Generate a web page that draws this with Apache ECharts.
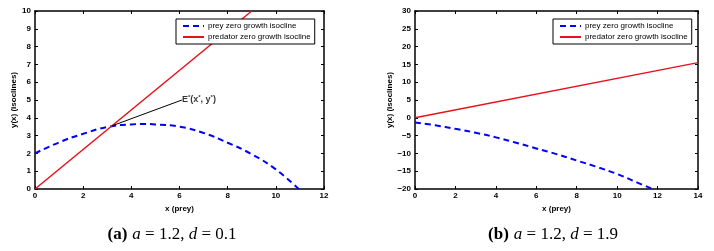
<!DOCTYPE html>
<html><head><meta charset="utf-8">
<script src="https://cdn.jsdelivr.net/npm/echarts@6/dist/echarts.min.js"></script>
<style>html,body{margin:0;padding:0;background:#fff}#c{width:714px;height:251px}</style>
</head><body><div id="c"></div>
<script>
// Panel (a): a = 1.2, d = 0.1
const preyA_x = [0, 1, 2, 3, 4, 4.5, 5, 6, 7, 8, 9, 10, 10.95];
const preyA_y = [2.0, 2.62, 3.1, 3.48, 3.63, 3.65, 3.63, 3.5, 3.15, 2.6, 1.95, 1.1, 0.0];
const predA_x = [0, 9.0];
const predA_y = [0, 10];
const eqA = [3.2, 3.55];        // equilibrium point E*
const eqLabelA = [6.1, 5.0];    // label anchor
// Panel (b): a = 1.2, d = 1.9
const preyB_x = [0, 1, 2, 3, 4, 5, 6, 7, 8, 9, 10, 11, 11.75];
const preyB_y = [-1.3, -2.1, -3.1, -4.2, -5.5, -7.0, -8.6, -10.2, -12.0, -13.8, -15.8, -18.2, -20];
const predB_x = [0, 14];
const predB_y = [0, 15.5];
const xTicksA = [0, 12, 2];
const yTicksA = [0, 10, 1];
const xTicksB = [0, 14, 2];
const yTicksB = [-20, 30, 5];
const names = ['prey zero growth isocline', 'predator zero growth isocline'];
const captions = [['(a)', 'a', '1.2', 'd', '0.1'], ['(b)', 'a', '1.2', 'd', '1.9']];

const zip = (xs, ys) => xs.map((x, i) => [x, ys[i]]);
const FONT = 'Liberation Sans';
const tickFont = {fontFamily: FONT, fontSize: 8, color: '#000', fontWeight: 'bold'};

function axesFor(gi, xt, yt) {
  const base = {
    gridIndex: gi, type: 'value', splitLine: {show: false},
    axisLine: {show: true, onZero: false, lineStyle: {color: '#000', width: 1.5}},
    axisTick: {show: true, inside: true, length: 3, lineStyle: {color: '#000'}}
  };
  const xs = [
    Object.assign({}, base, {min: xt[0], max: xt[1], interval: xt[2], position: 'bottom',
      name: 'x (prey)', nameLocation: 'middle', nameGap: 14,
      nameTextStyle: {fontFamily: FONT, fontSize: 8, fontWeight: 'bold', color: '#000'},
      axisLabel: Object.assign({margin: 3}, tickFont)}),
    Object.assign({}, base, {min: xt[0], max: xt[1], interval: xt[2], position: 'top',
      axisLabel: {show: false}})
  ];
  const ys = [
    Object.assign({}, base, {min: yt[0], max: yt[1], interval: yt[2], position: 'left',
      name: 'y(x) (isoclines)', nameLocation: 'middle', nameGap: gi === 0 ? 15 : 19, nameRotate: 90,
      nameTextStyle: {fontFamily: FONT, fontSize: 8, fontWeight: 'bold', color: '#000'},
      axisLabel: Object.assign({margin: 4, formatter: v => String(v).replace('-', '\u2212')}, tickFont)}),
    Object.assign({}, base, {min: yt[0], max: yt[1], interval: yt[2], position: 'right',
      axisLabel: {show: false}})
  ];
  return {xs, ys};
}
const aA = axesFor(0, xTicksA, yTicksA);
const aB = axesFor(1, xTicksB, yTicksB);

const legendBase = {
  orient: 'vertical', data: names, backgroundColor: '#fff',
  borderColor: '#000', borderWidth: 1, padding: [3, 4, 3, 6],
  itemWidth: 21, itemHeight: 8, itemGap: 3, borderRadius: 0,
  itemStyle: {opacity: 0},
  textStyle: {fontFamily: FONT, fontSize: 8, color: '#000', padding: [0, 0, 0, -1]},
  selectedMode: false
};

function capRich(c) {
  return '{b|' + c[0] + '} {i|' + c[1] + '}{r| = ' + c[2] + ', }{i|' + c[3] + '}{r| = ' + c[4] + '}';
}
const rich = {
  b: {fontFamily: 'Liberation Serif', fontSize: 17, fontWeight: 'bold', color: '#000'},
  i: {fontFamily: 'Liberation Serif', fontSize: 17, fontWeight: 'normal', fontStyle: 'italic', color: '#000'},
  r: {fontFamily: 'Liberation Serif', fontSize: 17, fontWeight: 'normal', color: '#000'}
};

const option = {
  animation: false,
  grid: [
    {left: 35, top: 11, width: 289, height: 178},
    {left: 415, top: 11, width: 283, height: 178}
  ],
  xAxis: [aA.xs[0], aA.xs[1], aB.xs[0], aB.xs[1]],
  yAxis: [aA.ys[0], aA.ys[1], aB.ys[0], aB.ys[1]],
  legend: [
    Object.assign({left: 176, top: 19, width: 136}, legendBase),
    Object.assign({left: 553, top: 19, width: 144}, legendBase)
  ],
  title: [
    {text: capRich(captions[0]), left: 167, top: 221, textAlign: 'center', textStyle: {fontWeight: 'normal', rich}},
    {text: capRich(captions[1]), left: 548, top: 221, textAlign: 'center', textStyle: {fontWeight: 'normal', rich}}
  ],
  series: [
    {name: names[0], type: 'line', xAxisIndex: 0, yAxisIndex: 0, data: zip(preyA_x, preyA_y),
     smooth: true, symbol: 'none', lineStyle: {color: '#0000ff', width: 2, type: [6, 4]}, itemStyle: {color: '#0000ff'}},
    {name: names[1], type: 'line', xAxisIndex: 0, yAxisIndex: 0, data: zip(predA_x, predA_y),
     symbol: 'none', lineStyle: {color: '#e8101c', width: 1.5}, itemStyle: {color: '#e8101c'},
     markLine: {silent: true, symbol: ['none', 'arrow'], symbolSize: [0, 9],
       lineStyle: {color: '#000', width: 1, type: 'solid'}, label: {show: false},
       data: [[{coord: eqLabelA}, {coord: eqA}]]}},
    {type: 'scatter', xAxisIndex: 0, yAxisIndex: 0, data: [eqLabelA], symbolSize: 0, silent: true,
     label: {show: true, position: 'right', distance: 0, color: '#000',
       formatter: '{t|E}{s|*}{t|(x}{s|*}{t|, y}{s|*}{t|)}',
       rich: {t: {fontFamily: FONT, fontSize: 9, fontWeight: 'bold', color: '#000'},
              s: {fontFamily: FONT, fontSize: 6, fontWeight: 'bold', color: '#000', verticalAlign: 'top', padding: [0, 0, 6, 0]}}}},
    {name: names[0], type: 'line', xAxisIndex: 2, yAxisIndex: 2, data: zip(preyB_x, preyB_y),
     smooth: true, symbol: 'none', lineStyle: {color: '#0000ff', width: 2, type: [6, 4]}, itemStyle: {color: '#0000ff'}},
    {name: names[1], type: 'line', xAxisIndex: 2, yAxisIndex: 2, data: zip(predB_x, predB_y),
     symbol: 'none', lineStyle: {color: '#e8101c', width: 1.5}, itemStyle: {color: '#e8101c'}}
  ]
};
const chart = echarts.init(document.getElementById('c'), null, {renderer: 'canvas'});
chart.setOption(option);
</script></body></html>
